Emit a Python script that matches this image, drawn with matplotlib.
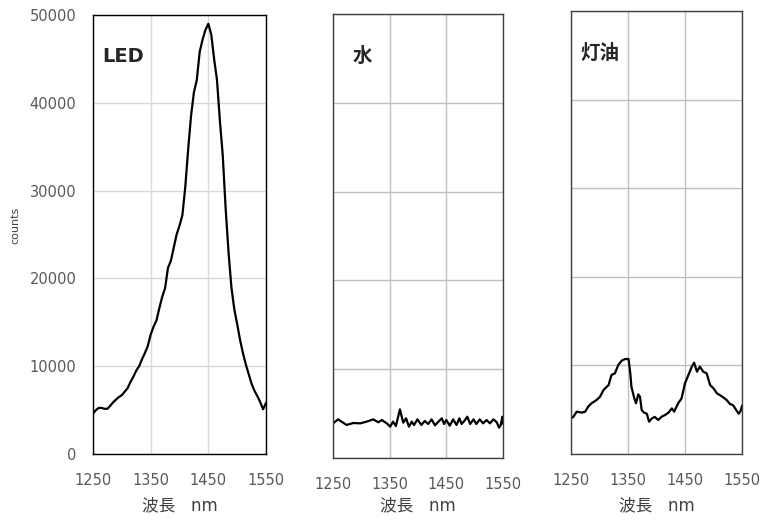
import numpy as np
import matplotlib
matplotlib.use("Agg")
import matplotlib.pyplot as plt

plt.rcParams['font.family'] = ['DejaVu Sans', 'Noto Sans CJK JP']

# LED spectrum
led_wl = [1250, 1255, 1260, 1265, 1270, 1275, 1280, 1285, 1290, 1295, 1300, 1305, 1310,
          1315, 1320, 1325, 1330, 1335, 1340, 1345, 1350, 1355, 1360, 1365, 1370, 1375,
          1380, 1385, 1390, 1395, 1400, 1405, 1410, 1415, 1420, 1425, 1430, 1435, 1440,
          1445, 1450, 1455, 1460, 1465, 1470, 1475, 1480, 1485, 1490, 1495, 1500, 1505,
          1510, 1515, 1520, 1525, 1530, 1535, 1540, 1545, 1550]
led_counts = [4600, 5000, 5250, 5250, 5150, 5150, 5500, 5900, 6200, 6500, 6700, 7100, 7500,
              8200, 8800, 9500, 10000, 10800, 11500, 12300, 13600, 14500, 15200, 16600, 17900,
              18900, 21200, 22000, 23500, 25000, 26000, 27200, 30400, 34700, 38500, 41200,
              42600, 45800, 47200, 48300, 49000, 47800, 45000, 42600, 38000, 34000, 28000,
              23000, 19000, 16500, 14800, 13000, 11500, 10200, 9100, 8000, 7200, 6600, 5900,
              5100, 5800]

# water
water_wl = [1250, 1259, 1274, 1286, 1298, 1309, 1321, 1330, 1336, 1345, 1351, 1356, 1361,
            1365, 1368, 1371, 1374, 1379, 1384, 1389, 1393, 1399, 1406, 1412, 1418, 1424,
            1430, 1436, 1442, 1446, 1450, 1456, 1462, 1468, 1473, 1477, 1483, 1487, 1492,
            1498, 1503, 1509, 1515, 1521, 1527, 1533, 1539, 1543, 1546, 1549, 1550]
water_counts = [3900, 4350, 3720, 3940, 3900, 4090, 4350, 4020, 4280, 3900, 3530, 4090, 3600,
                4650, 5480, 4730, 3980, 4470, 3530, 4090, 3720, 4350, 3720, 4170, 3830, 4350,
                3680, 4090, 4470, 3830, 4280, 3640, 4350, 3720, 4470, 3830, 4280, 4650, 3830,
                4350, 3830, 4350, 3900, 4280, 3900, 4350, 4020, 3420, 3720, 4650, 3900]

# kerosene
oil_wl = [1250, 1254, 1260, 1269, 1275, 1280, 1286, 1295, 1301, 1307, 1316, 1321, 1327,
          1333, 1339, 1345, 1351, 1354, 1356, 1361, 1364, 1368, 1371, 1374, 1378, 1383,
          1387, 1392, 1397, 1403, 1409, 1415, 1421, 1427, 1431, 1438, 1444, 1450, 1456,
          1462, 1466, 1471, 1476, 1482, 1488, 1494, 1500, 1506, 1511, 1517, 1523, 1529,
          1534, 1538, 1544, 1547, 1550]
oil_counts = [4025, 4180, 4780, 4670, 4780, 5340, 5720, 6100, 6470, 7220, 7790, 8920, 9100,
              10050, 10540, 10720, 10720, 9100, 7600, 6280, 5720, 6730, 6470, 4970, 4670,
              4550, 3650, 4025, 4180, 3840, 4210, 4400, 4670, 5150, 4780, 5720, 6280, 7980,
              8920, 9860, 10310, 9290, 9860, 9290, 9100, 7790, 7410, 6850, 6660, 6400, 6100,
              5640, 5530, 5150, 4550, 4780, 5420]

panels = [
    ("LED", led_wl, led_counts, [93, 15, 266, 454], '#d9d9d9', '#000000', True),
    ("水", water_wl, water_counts, [333, 14, 503, 458], '#bfbfbf', '#404040', False),
    ("灯油", oil_wl, oil_counts, [571, 11, 742, 454], '#bfbfbf', '#404040', False),
]
label_x = [0.052, 0.118, 0.053]
xlabel_pad = [6, 3, 6]

W, H = 766, 520
fig = plt.figure(figsize=(W / 100, H / 100), dpi=100)

for i, (name, wl, cnt, box, gcol, scol, show_y) in enumerate(panels):
    x0, y0, x1, y1 = box
    ax = fig.add_axes([x0 / W, (H - y1) / H, (x1 - x0) / W, (y1 - y0) / H])
    ax.plot(wl, cnt, color='black', lw=1.6)
    ax.set_xlim(1250, 1550)
    ax.set_ylim(0, 50000)
    ax.set_xticks([1250, 1350, 1450, 1550])
    ax.set_yticks(np.arange(0, 50001, 10000))
    ax.grid(True, color=gcol, lw=1.0)
    ax.set_axisbelow(True)
    for s in ax.spines.values():
        s.set_color(scol)
        s.set_linewidth(1.0)
    ax.tick_params(length=0, labelsize=10.5, labelcolor='#595959')
    ax.tick_params(axis='x', pad=14)
    ax.tick_params(axis='y', pad=12)
    if not show_y:
        ax.tick_params(axis='y', labelleft=False)
    else:
        ax.set_ylabel('counts', fontsize=8, color='#404040')
        ax.yaxis.set_label_coords(-0.42, 0.52)
    ax.set_xlabel('波長   nm', fontsize=12, color='#404040', labelpad=xlabel_pad[i])
    ax.text(label_x[i], 0.905, name, transform=ax.transAxes, fontsize=14,
            fontweight='bold', color='#262626', va='center', ha='left')

fig.savefig('out.png', dpi=100)
